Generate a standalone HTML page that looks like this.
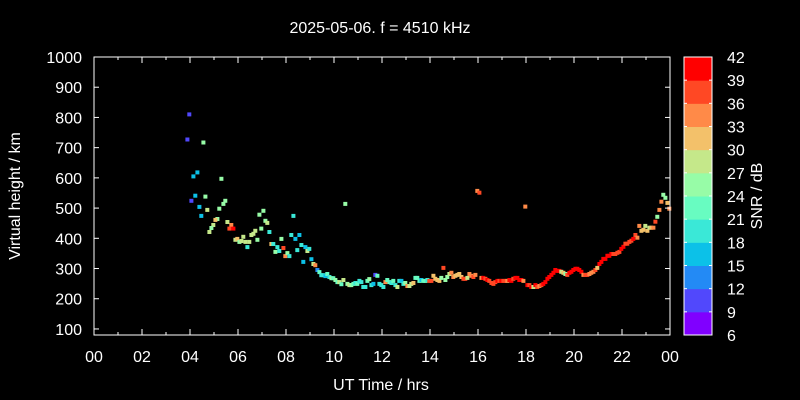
<!DOCTYPE html>
<html><head><meta charset="utf-8"><style>
html,body{margin:0;padding:0;background:#000;}
svg{display:block;font-family:"Liberation Sans",sans-serif;}
</style></head><body>
<svg id="chart" width="800" height="400" viewBox="0 0 800 400">
<rect width="800" height="400" fill="#000"/>
<text x="380" y="33" fill="#fff" font-size="16" text-anchor="middle">2025-05-06. f = 4510 kHz</text>
<text x="381" y="390" fill="#fff" font-size="16" text-anchor="middle">UT Time / hrs</text>
<text transform="translate(20,196) rotate(-90)" fill="#fff" font-size="16" text-anchor="middle">Virtual height / km</text>
<text transform="translate(762,196) rotate(-90)" fill="#fff" font-size="16" text-anchor="middle">SNR / dB</text>
<g id="marks"></g>
<g id="axes"></g>
<g id="cbar"></g>
</svg>
<script>
const hours=[3.97,3.89,4.56,4.31,4.14,5.31,4.22,4.64,4.06,4.39,5.47,5.39,5.22,4.72,4.47,5.14,5.06,4.97,4.89,4.81,5.56,5.72,5.64,5.81,5.89,5.97,6.06,6.14,6.22,6.31,6.47,6.39,6.56,6.64,6.72,6.81,6.89,7.06,7.14,7.22,6.97,7.31,7.39,7.47,7.64,7.56,7.72,7.81,7.89,7.97,8.06,8.14,8.22,8.31,8.39,8.56,8.47,8.64,8.81,8.89,8.97,8.72,9.06,9.14,9.22,9.31,9.39,9.47,9.56,9.64,9.72,9.81,9.89,9.97,10.06,10.14,10.22,10.31,10.39,10.47,
10.56,10.64,10.72,10.81,10.89,10.97,11.06,11.14,11.22,11.31,11.39,11.47,11.56,11.64,11.72,11.81,11.89,11.97,12.06,12.14,12.22,12.31,12.39,12.47,12.56,12.64,12.72,12.81,12.89,12.97,13.06,13.14,13.22,13.31,13.39,13.47,13.56,13.64,13.72,13.81,13.89,13.97,14.06,14.14,14.22,14.31,14.39,14.47,14.56,14.64,14.72,14.81,14.89,14.97,15.06,15.14,15.22,15.31,15.39,15.47,15.56,15.64,15.72,15.81,15.89,15.97,16.06,16.14,16.22,16.31,16.39,16.47,16.56,16.64,16.72,16.81,16.89,16.97,17.06,17.14,17.22,17.31,17.39,17.47,17.56,17.64,17.72,17.81,17.89,17.97,18.06,18.14,18.22,18.31,18.39,18.47,18.56,18.64,18.72,18.81,18.89,18.97,19.06,19.14,19.22,19.31,19.39,19.47,19.56,19.64,19.72,19.81,19.89,19.97,20.06,20.14,20.22,20.31,20.39,20.47,20.56,20.64,20.72,20.81,20.89,20.97,21.06,21.14,21.22,21.31,21.39,21.47,21.56,21.64,21.72,21.81,21.89,21.97,22.06,22.14,22.22,22.31,22.39,22.47,22.56,22.64,22.72,22.81,22.89,22.97,23.06,23.14,23.22,23.31,23.39,23.47,23.56,23.64,23.72,23.81,23.89,23.97];
const heights=[810,727,717,618,605,597,541,538,524,504,524,514,498,494,474,464,461,444,434,421,454,444,432,432,395,398,388,391,405,388,388,371,411,415,425,395,478,491,458,451,432,421,381,381,371,355,358,398,368,341,351,341,411,474,398,411,361,378,371,358,365,322,331,315,311,295,288,278,278,275,282,272,268,268,262,255,255,248,262,514,
249,245,245,249,252,249,259,255,239,239,259,265,245,249,279,276,249,245,239,255,262,255,252,259,245,239,259,259,249,252,242,242,249,252,269,269,259,262,259,259,262,259,259,276,266,262,259,269,302,262,272,282,286,272,276,279,282,272,266,266,269,282,276,272,279,557,551,269,269,266,262,259,252,249,255,259,259,259,259,259,259,262,259,266,269,269,262,262,259,505,245,245,239,239,245,239,242,245,249,255,266,272,279,286,295,292,292,289,286,282,279,286,289,295,299,299,295,289,279,279,279,282,286,289,295,302,315,322,332,332,342,342,348,348,348,352,355,365,372,382,382,388,392,398,411,402,441,425,428,441,425,435,435,435,455,471,494,521,544,534,517,498];
const snr=[9,9,24,15,15,24,15,24,9,15,24,24,24,27,15,24,30,27,24,27,27,33,36,42,27,30,24,27,27,27,27,18,27,27,27,24,24,24,24,27,24,18,30,18,18,24,18,24,36,33,24,18,18,18,15,15,18,18,15,27,18,15,15,27,33,12,21,18,18,15,21,18,24,21,24,21,27,21,27,24,
24,27,24,21,18,21,18,18,18,18,21,24,18,15,9,21,18,18,18,33,21,21,18,21,18,27,18,15,18,24,33,27,27,30,21,21,21,15,21,21,18,36,36,30,30,30,30,24,36,24,24,27,33,33,30,30,30,30,36,36,27,33,33,36,33,33,36,33,39,36,39,36,36,36,36,39,36,39,36,36,33,39,39,36,39,39,39,39,33,33,42,36,39,27,39,36,33,36,39,39,39,39,39,39,42,39,39,27,30,24,36,39,39,39,42,39,39,39,33,36,36,33,33,33,36,30,39,39,39,42,39,39,39,36,36,36,36,39,39,36,36,36,36,39,36,33,33,30,30,27,30,27,30,33,36,24,33,33,24,24,30,33];
const yTicks=[100,200,300,400,500,600,700,800,900,1000];
const xTickLabels=["00","02","04","06","08","10","12","14","16","18","20","22","00"];
const cbLabels=[6,9,12,15,18,21,24,27,30,33,36,39,42];

const NS="http://www.w3.org/2000/svg";
const L=94,R=670,T=57,B=335,H0=80,H1=1000,SMIN=6,SMAX=42;
const xs=h=>L+(R-L)*h/24;
const ys=k=>B-(B-T)*(k-H0)/(H1-H0);
function binColor(b){
  const x=b/11;
  const r=Math.min(1,Math.abs(2*x-0.5)),g=Math.sin(Math.PI*x),bl=Math.max(0,Math.cos(Math.PI*x/2));
  return `rgb(${Math.round(r*255)},${Math.round(g*255)},${Math.round(bl*255)})`;
}
function col(v){
  let b=Math.floor((v-SMIN)/3+1e-9); b=Math.max(0,Math.min(11,b));
  return binColor(b);
}
function mk(tag,attrs,parent){const e=document.createElementNS(NS,tag);for(const k in attrs)e.setAttribute(k,attrs[k]);parent.appendChild(e);return e;}
const marks=document.getElementById('marks');
for(let i=0;i<hours.length;i++){
  const r=mk('rect',{x:(xs(hours[i])-2).toFixed(1),y:(ys(heights[i])-2).toFixed(1),width:4,height:4,fill:col(snr[i])},marks);
  
  
}
const ax=document.getElementById('axes');
const fr=mk('rect',{x:L,y:T,width:R-L,height:B-T,fill:'none',stroke:'#fff','stroke-width':1},ax);


yTicks.forEach(v=>{
  const y=ys(v);
  mk('line',{x1:L,x2:L+5,y1:y,y2:y,stroke:'#fff'},ax);
  mk('line',{x1:R-5,x2:R,y1:y,y2:y,stroke:'#fff'},ax);
  const t=mk('text',{x:82,y:y+6,fill:'#fff','font-size':16,'text-anchor':'end'},ax);
  t.textContent=v;
  
  
});
for(let h=0;h<=24;h++){
  const x=xs(h),len=h%2===0?6:3;
  mk('line',{x1:x,x2:x,y1:B,y2:B-len,stroke:'#fff'},ax);
  mk('line',{x1:x,x2:x,y1:T,y2:T+len,stroke:'#fff'},ax);
}
xTickLabels.forEach((s,i)=>{
  const t=mk('text',{x:xs(i*2),y:362,fill:'#fff','font-size':16,'text-anchor':'middle'},ax);
  t.textContent=s;
  
  
});
const cb=document.getElementById('cbar');
const CL=684,CR=712;
const cy=v=>B-(B-T)*(v-SMIN)/(SMAX-SMIN);
for(let i=0;i<cbLabels.length-1;i++){
  const r=mk('rect',{x:CL,y:cy(cbLabels[i+1]),width:CR-CL,height:cy(cbLabels[i])-cy(cbLabels[i+1])+0.5,fill:binColor(i)},cb);
  
  
}
mk('rect',{x:CL,y:T,width:CR-CL,height:B-T,fill:'none',stroke:'#fff'},cb);
cbLabels.forEach(v=>{
  const y=cy(v);
  mk('line',{x1:CL,x2:CL+3,y1:y,y2:y,stroke:'#fff'},cb);
  mk('line',{x1:CR-3,x2:CR,y1:y,y2:y,stroke:'#fff'},cb);
  const t=mk('text',{x:727,y:y+6,fill:'#fff','font-size':16},cb);
  t.textContent=v;
  
  
});
</script>
</body></html>
